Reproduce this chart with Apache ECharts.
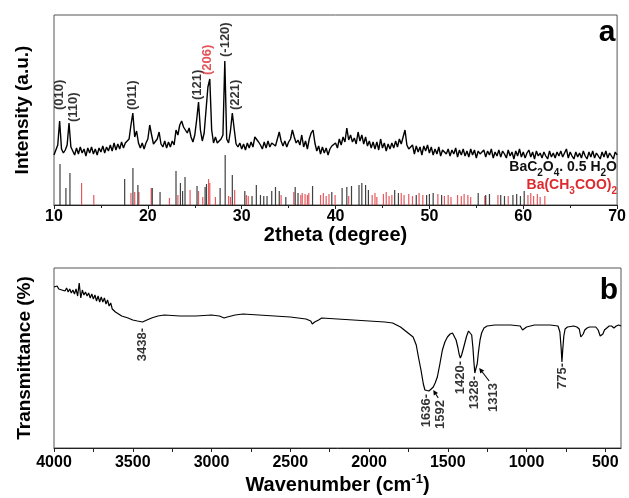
<!DOCTYPE html>
<html>
<head>
<meta charset="utf-8">
<title>XRD and FTIR</title>
<script src="https://cdn.jsdelivr.net/npm/echarts@6/dist/echarts.min.js"></script>
<style>
html, body { margin: 0; padding: 0; background: #fff; }
#chart { width: 629px; height: 498px; }
</style>
</head>
<body>
<div id="chart"></div>
<script>
var FONT = '"Liberation Sans", Arial, sans-serif';
var RED = '#dd2a2e';

// (a) XRD scan, sampled every 0.2 deg from 10 deg
var xrdStart = 10, xrdStep = 0.2;
var xrdCounts = [
  50, 55, 60, 84, 56, 52, 55, 60, 82, 58,
  54, 50, 57, 51, 58, 52, 56, 49, 57, 52,
  58, 51, 56, 50, 57, 53, 59, 52, 58, 54,
  60, 54, 62, 55, 61, 56, 63, 57, 62, 64,
  66, 80, 92, 68, 74, 62, 57, 62, 56, 62,
  66, 80, 70, 61, 60, 66, 73, 61, 58, 64,
  57, 63, 58, 64, 60, 75, 70, 80, 84, 78,
  80, 72, 77, 68, 63, 70, 85, 103, 75, 64,
  72, 95, 118, 126, 75, 62, 68, 62, 60, 66,
  70, 144, 66, 62, 74, 92, 76, 61, 58, 62,
  56, 61, 55, 62, 57, 63, 58, 68, 70, 63,
  60, 56, 63, 57, 64, 58, 62, 64, 59, 66,
  73, 64, 59, 64, 58, 63, 66, 75, 68, 62,
  65, 60, 70, 58, 64, 56, 66, 72, 75, 62,
  54, 59, 51, 58, 52, 57, 50, 56, 59, 57,
  62, 57, 66, 60, 68, 63, 77, 65, 70, 63,
  67, 61, 73, 64, 70, 61, 68, 59, 64, 57,
  63, 56, 63, 55, 66, 57, 62, 54, 61, 56,
  62, 57, 64, 58, 66, 61, 68, 75, 60, 56,
  56, 60, 51, 59, 53, 58, 50, 59, 54, 60,
  52, 58, 50, 56, 51, 58, 49, 55, 56, 51,
  56, 49, 55, 51, 57, 48, 55, 50, 56, 49,
  54, 48, 56, 50, 55, 47, 54, 51, 49, 55,
  48, 54, 50, 56, 47, 53, 49, 55, 48, 54,
  51, 47, 55, 49, 53, 46, 54, 49, 56, 48,
  53, 47, 52, 55, 48, 53, 46, 54, 49, 52,
  47, 53, 49, 46, 54, 48, 52, 47, 53, 49,
  54, 48, 52, 56, 47, 53, 49, 46, 53, 48,
  52, 47, 54, 49, 46, 53, 48, 54, 47, 52,
  50, 46, 53, 48, 54, 47, 52, 49, 46, 53,
  50
];

// reference patterns (stick positions and heights)
var oxalatePos = [10.64, 11.27, 11.7, 17.53, 18.41, 18.94, 20.47, 21.3, 23.0, 23.47, 23.7, 23.96,
  25.24, 26.1, 26.25, 27.7, 28.24, 29.0, 30.33, 31.1, 31.56, 32.0, 32.35, 32.7, 33.2, 33.6, 34.0,
  34.7, 35.7, 36.0, 37.55, 39.6, 40.7, 41.2, 41.7, 42.5, 42.8, 43.2, 43.5, 46.3, 46.7, 48.6, 49.7,
  50.0, 50.4, 51.3, 55.2, 56.0, 56.4, 57.6, 58.0, 58.9, 59.3, 59.7, 60.1];
var oxalateH = [41, 17, 32, 26, 37, 20, 17, 13, 34, 22, 14, 28,
  19, 18, 21, 17, 50, 30, 14, 9, 20, 10, 9, 9, 14, 18, 14,
  8, 18, 12, 19, 13, 17, 18, 19, 20, 22, 20, 15, 15, 12, 10, 10,
  11, 12, 10, 12, 10, 11, 10, 9, 10, 11, 9, 14];
var acetatePos = [12.94, 14.24, 18.2, 18.6, 19.05, 20.36, 22.3, 23.2, 24.5, 25.4, 25.85, 26.47,
  26.6, 27.2, 28.6, 28.8, 29.25, 30.5, 30.7, 34.2, 35.55, 36.3, 36.45, 36.75, 37.0, 37.15, 38.4,
  38.7, 39.0, 39.3, 39.95, 41.4, 43.9, 44.2, 44.4, 45.1, 45.4, 45.7, 46.0, 47.0, 47.3, 47.8, 48.2,
  48.9, 49.3, 50.9, 51.6, 52.0, 52.3, 53.0, 53.4, 53.7, 54.1, 54.4, 55.9, 57.3, 58.4, 60.5, 60.8,
  61.1, 61.5, 61.8, 62.3];
var acetateH = [22, 10, 12, 13, 13, 17, 7, 10, 15, 14, 8, 26,
  22, 8, 9, 8, 15, 10, 9, 10, 13, 10, 12, 11, 10, 12, 10,
  12, 9, 11, 10, 9, 10, 12, 8, 11, 13, 9, 10, 12, 10, 11, 9,
  12, 10, 11, 9, 10, 8, 10, 9, 11, 10, 8, 9, 10, 9, 10, 12,
  9, 11, 8, 9];

var peakTheta = [10.6, 11.6, 18.4, 25.4, 26.6, 28.2, 29.0];
var peakName = ['(010)', '(110)', '(011)', '(121)', '(206)', '(-120)', '(221)'];

// (b) FTIR spectrum
var ftirWn = [4000, 3990, 3980, 3970, 3960, 3950, 3940, 3930, 3920, 3910, 3900, 3890, 3880, 3870,
  3860, 3850, 3840, 3830, 3820, 3810, 3800, 3790, 3780, 3770, 3760, 3750, 3740, 3730, 3720, 3710,
  3700, 3690, 3680, 3670, 3660, 3650, 3640, 3630, 3620, 3610, 3600, 3590, 3580, 3570, 3560, 3550,
  3530, 3500, 3470, 3438, 3410, 3380, 3340, 3300, 3200, 3100, 3000, 2950, 2920, 2900, 2850, 2800,
  2700, 2600, 2500, 2400, 2370, 2360, 2345, 2335, 2320, 2300, 2200, 2100, 2000, 1900, 1850, 1800,
  1760, 1720, 1700, 1685, 1670, 1655, 1645, 1636, 1620, 1605, 1592, 1580, 1566, 1550, 1534, 1518,
  1502, 1485, 1470, 1458, 1447, 1435, 1428, 1420, 1412, 1400, 1390, 1380, 1368, 1358, 1348, 1340,
  1334, 1328, 1322, 1313, 1305, 1295, 1285, 1270, 1250, 1200, 1100, 1040, 1025, 1015, 1000, 950,
  850, 800, 788, 780, 775, 770, 763, 755, 740, 700, 680, 665, 655, 648, 640, 630, 615, 600, 560,
  545, 532, 525, 515, 505, 495, 475, 460, 445, 430, 415, 400];
var ftirT = [161, 160, 162, 159, 161, 158, 160, 157, 160, 156, 159, 155, 158, 154,
  159, 152, 165, 150, 158, 153, 156, 152, 155, 150, 154, 149, 153, 147, 152, 146,
  151, 146, 150, 144, 148, 142, 145, 139, 141, 136, 138, 134, 135, 132, 133, 131,
  130, 128, 127, 126, 128, 130, 132, 133, 132, 132, 133, 132, 130, 131, 133, 134,
  133, 132, 131, 129, 127, 124, 126, 125, 128, 130, 129, 128, 127, 126, 125, 121,
  116, 111, 103, 90, 78, 64, 58, 56, 57, 59, 61, 65, 71, 84, 98, 106,
  111, 114, 115, 113, 108, 100, 94, 90, 93, 100, 106, 112, 117, 118, 113, 100,
  86, 75, 79, 84, 96, 108, 115, 120, 122, 123, 123, 122, 118, 119, 121, 123,
  123, 122, 116, 100, 86, 98, 112, 119, 121, 122, 121, 119, 111, 110, 114, 118, 120, 121, 121,
  118, 112, 111, 114, 118, 120, 122, 122, 120, 122, 123, 122];

var bandWn = [3438, 1636, 1592, 1420, 1328, 1313, 775];
var bandText = ['3438-', '1636-', '1592', '1420-', '1328-', '1313', '775-'];

var ftirLabelValues = [500, 1000, 1500, 2000, 2500, 3000, 3500, 4000];
var ftirTickValues = [500, 750, 1000, 1250, 1500, 1750, 2000, 2250, 2500, 2750, 3000, 3250, 3500, 3750, 4000];

function xrdAt(t) {
  return xrdCounts[Math.round((t - xrdStart) / xrdStep)];
}
function ftirAt(w) {
  return ftirT[ftirWn.indexOf(w)];
}

var xrdLine = xrdCounts.map(function (v, i) {
  return [+(xrdStart + i * xrdStep).toFixed(2), v];
});
var ftirLine = ftirWn.map(function (w, i) { return [w, ftirT[i]]; });

function sticks(pos, h) {
  return pos.map(function (p, i) { return [p, h[i]]; });
}
function renderStick(params, api) {
  var a = api.coord([api.value(0), 0]);
  var b = api.coord([api.value(0), api.value(1)]);
  return {
    type: 'line',
    shape: { x1: a[0], y1: a[1], x2: b[0], y2: b[1] },
    style: { stroke: api.visual('color'), lineWidth: 1.2 }
  };
}

var tickFont = { color: '#000', fontSize: 16, fontWeight: 'bold', fontFamily: FONT, formatter: function (v) { return String(v); } };

// label tweaks (px); rotated labels take offset as [along text, across text]
var peakGap = [11, 1, 3, 2, 4, 4, 3];
var peakShift = [[0, 0], [0, 4], [0, 0], [0, -1], [0, -2], [0, 1], [0, 3]];
var bandGap = [6, 2, 13, 3, 3, 19, 1];
var bandShift = [[0, 0], [0, 0], [0, 7], [0, 0], [0, 0], [0, 16], [0, 0]];

var chart = echarts.init(document.getElementById('chart'));

var option = {
  animation: false,
  backgroundColor: '#fff',
  grid: [
    { left: 54, right: 9, top: 15, bottom: 293, show: true, borderColor: '#555', borderWidth: 1 },
    { left: 54, right: 8, top: 268, bottom: 50, show: true, borderColor: '#555', borderWidth: 1 }
  ],
  xAxis: [
    {
      type: 'value', gridIndex: 0, min: 10, max: 70, interval: 10,
      axisLine: { lineStyle: { color: '#222', width: 1 } },
      axisTick: { length: 4, lineStyle: { color: '#222' } },
      minorTick: { show: true, splitNumber: 2, length: 3, lineStyle: { color: '#222' } },
      axisLabel: Object.assign({ margin: 4 }, tickFont),
      splitLine: { show: false },
      name: '2theta (degree)', nameLocation: 'middle', nameGap: 13,
      nameTextStyle: { color: '#000', fontSize: 20, fontWeight: 'bold', fontFamily: FONT }
    },
    {
      type: 'value', gridIndex: 1, min: 400, max: 4000, inverse: true,
      axisLine: { lineStyle: { color: '#222', width: 1 } },
      axisTick: { length: 4, lineStyle: { color: '#222' }, customValues: ftirTickValues },
      axisLabel: Object.assign({ margin: 7, customValues: ftirLabelValues }, tickFont),
      splitLine: { show: false },
      name: 'Wavenumber (cm{sup|-1})', nameLocation: 'middle', nameGap: 25,
      nameTextStyle: {
        color: '#000', fontSize: 20, fontWeight: 'bold', fontFamily: FONT,
        rich: { sup: { color: '#000', fontSize: 13, fontWeight: 'bold', fontFamily: FONT, padding: [0, 0, 11, 0] } }
      }
    }
  ],
  yAxis: [
    {
      type: 'value', gridIndex: 0, min: 0, max: 190,
      axisLine: { show: false }, axisTick: { show: false }, axisLabel: { show: false },
      splitLine: { show: false },
      name: 'Intensity (a.u.)', nameLocation: 'middle', nameGap: 22,
      nameTextStyle: { color: '#000', fontSize: 19, fontWeight: 'bold', fontFamily: FONT }
    },
    {
      type: 'value', gridIndex: 1, min: 0, max: 180,
      axisLine: { show: false }, axisTick: { show: false }, axisLabel: { show: false },
      splitLine: { show: false },
      name: 'Transmittance (%)', nameLocation: 'middle', nameGap: 20,
      nameTextStyle: { color: '#000', fontSize: 19, fontWeight: 'bold', fontFamily: FONT }
    }
  ],
  series: [
    {
      type: 'custom', xAxisIndex: 0, yAxisIndex: 0, renderItem: renderStick,
      itemStyle: { color: 'rgba(226,60,66,0.85)' }, data: sticks(acetatePos, acetateH), silent: true
    },
    {
      type: 'custom', xAxisIndex: 0, yAxisIndex: 0, renderItem: renderStick,
      itemStyle: { color: 'rgba(30,30,30,0.85)' }, data: sticks(oxalatePos, oxalateH), silent: true
    },
    {
      type: 'line', xAxisIndex: 0, yAxisIndex: 0, data: xrdLine, showSymbol: false,
      lineStyle: { color: '#000', width: 1.4 }, silent: true
    },
    {
      type: 'scatter', xAxisIndex: 0, yAxisIndex: 0, symbolSize: 0, silent: true,
      label: {
        show: true, position: 'top', rotate: 90, align: 'left', verticalAlign: 'middle',
        fontSize: 13, fontWeight: 'bold', fontFamily: FONT, color: '#000'
      },
      data: peakTheta.map(function (t, i) {
        return {
          value: [t, xrdAt(t)],
          label: {
            formatter: peakName[i], distance: peakGap[i], offset: peakShift[i],
            color: peakName[i] === '(206)' ? RED : '#000'
          }
        };
      })
    },
    {
      type: 'line', xAxisIndex: 1, yAxisIndex: 1, data: ftirLine, showSymbol: false,
      lineStyle: { color: '#000', width: 1.2 }, silent: true
    },
    {
      type: 'scatter', xAxisIndex: 1, yAxisIndex: 1, symbolSize: 0, silent: true,
      label: {
        show: true, position: 'bottom', rotate: 90, align: 'right', verticalAlign: 'middle',
        fontSize: 13, fontWeight: 'bold', fontFamily: FONT, color: '#000'
      },
      data: bandWn.map(function (w, i) {
        return {
          value: [w, ftirAt(w)],
          label: { formatter: bandText[i], distance: bandGap[i], offset: bandShift[i] }
        };
      })
    }
  ]
};
chart.setOption(option);

// arrows pointing at the shoulder bands, placed from the data points
function arrow(tail, tip) {
  var dx = tip[0] - tail[0], dy = tip[1] - tail[1];
  var len = Math.sqrt(dx * dx + dy * dy);
  var ux = dx / len, uy = dy / len;
  var bx = tip[0] - ux * 5, by = tip[1] - uy * 5;
  return [
    { type: 'line', shape: { x1: tail[0], y1: tail[1], x2: bx, y2: by }, style: { stroke: '#000', lineWidth: 1.1 } },
    { type: 'polygon', shape: { points: [tip, [bx - uy * 2.5, by + ux * 2.5], [bx + uy * 2.5, by - ux * 2.5]] }, style: { fill: '#000' } }
  ];
}
var arrowDefs = [
  { wn: 1592, tail: [5, 11], tip: [0, 3] },
  { wn: 1313, tail: [12, 17], tip: [2, 4] }
];
var graphics = [];
arrowDefs.forEach(function (d) {
  var p = chart.convertToPixel({ xAxisIndex: 1, yAxisIndex: 1 }, [d.wn, ftirAt(d.wn)]);
  graphics = graphics.concat(arrow([p[0] + d.tail[0], p[1] + d.tail[1]], [p[0] + d.tip[0], p[1] + d.tip[1]]));
});

function sub(color) {
  return { s: { fill: color, font: 'bold 10px ' + FONT, padding: [12, 0, 0, 0] } };
}
graphics.push(
  { type: 'text', style: { x: 607, y: 33, text: 'a', font: 'bold 30px ' + FONT, fill: '#000', align: 'center', verticalAlign: 'middle' } },
  { type: 'text', style: { x: 609, y: 291, text: 'b', font: 'bold 30px ' + FONT, fill: '#000', align: 'center', verticalAlign: 'middle' } },
  { type: 'text', style: { x: 617, y: 167, text: 'BaC{s|2}O{s|4}. 0.5 H{s|2}O', rich: sub('#111'), font: 'bold 14px ' + FONT, fill: '#111', align: 'right', verticalAlign: 'middle' } },
  { type: 'text', style: { x: 617, y: 185, text: 'Ba(CH{s|3}COO){s|2}', rich: sub(RED), font: 'bold 14px ' + FONT, fill: RED, align: 'right', verticalAlign: 'middle' } }
);
chart.setOption({ graphic: graphics });
</script>
</body>
</html>
